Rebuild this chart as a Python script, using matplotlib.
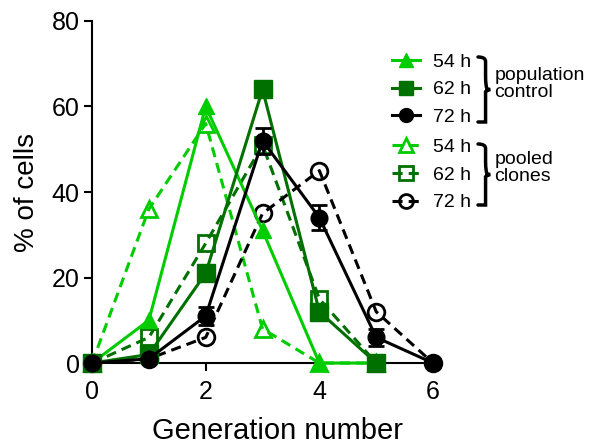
import numpy as np
import matplotlib
matplotlib.use("Agg")
import matplotlib.pyplot as plt
from matplotlib.lines import Line2D
from matplotlib.path import Path
from matplotlib.patches import PathPatch

plt.rcParams['font.family'] = ['Liberation Sans', 'DejaVu Sans']

# data
generation = [0, 1, 2, 3, 4, 5, 6]
pop_54h = [0, 10, 60, 31, 0, 0]
pop_62h = [0, 2, 21, 64, 12, 0]
pop_72h = [0, 1, 11, 52, 34, 6, 0]
pop_72h_err = [0, 0.5, 2, 3, 3, 2, 0]
pool_54h = [0, 36, 56, 8, 0, 0]
pool_62h = [0, 6, 28, 51, 15, 0]
pool_72h = [0, 1, 6, 35, 45, 12, 0]
hours = ['54 h', '62 h', '72 h']

light = '#00cc00'
dark = '#007000'
black = '#000000'

fig = plt.figure(figsize=(5.9, 4.46), dpi=100)
ax = fig.add_axes([0.156, 0.186, 0.578, 0.767])

lw = 2.2
dsh = (3.3, 2.0)
# pooled clones (dashed, open markers)
ax.plot(generation[:6], pool_54h, '--', color=light, lw=lw, marker='^', ms=12,
        mfc='none', mec=light, mew=2, dashes=dsh, zorder=3)
ax.plot(generation[:6], pool_62h, '--', color=dark, lw=lw, marker='s', ms=12,
        mfc='none', mec=dark, mew=2, dashes=dsh, zorder=3)
ax.plot(generation, pool_72h, '--', color=black, lw=lw, marker='o', ms=12,
        mfc='none', mec=black, mew=2, dashes=dsh, zorder=3)
# population control (solid, filled markers)
ax.plot(generation[:6], pop_54h, '-', color=light, lw=lw, marker='^', ms=12,
        mfc=light, mec=light, zorder=4)
ax.plot(generation[:6], pop_62h, '-', color=dark, lw=lw, marker='s', ms=13,
        mfc=dark, mec=dark, zorder=4)
ax.errorbar(generation, pop_72h, yerr=pop_72h_err, fmt='-o', color=black, lw=lw,
            ms=12, capsize=6, capthick=2, elinewidth=2, zorder=5)

ax.set_xlim(0, 6)
ax.set_ylim(0, 80)
ax.set_xticks([0, 2, 4, 6])
ax.set_yticks([0, 20, 40, 60, 80])
for s in ['top', 'right']:
    ax.spines[s].set_visible(False)
ax.spines['left'].set_linewidth(1.5)
ax.spines['bottom'].set_linewidth(1.5)
ax.tick_params(direction='out', length=6, width=1.5, labelsize=18)
ax.tick_params(axis='x', pad=6)
ax.tick_params(axis='y', pad=3)
ax.set_xlabel('Generation number', fontsize=21)
ax.xaxis.set_label_coords(0.545, -0.158)
ax.set_ylabel('% of cells', fontsize=20, labelpad=8)
for ln in ax.lines:
    ln.set_clip_on(False)
for c in ax.collections:
    c.set_clip_on(False)

# legends
h1 = [Line2D([], [], color=light, lw=lw, marker='^', ms=10),
      Line2D([], [], color=dark, lw=lw, marker='s', ms=10),
      Line2D([], [], color=black, lw=lw, marker='o', ms=10)]
h2 = [Line2D([], [], color=light, lw=lw, ls='--', dashes=dsh, marker='^', ms=10, mfc='none', mew=2),
      Line2D([], [], color=dark, lw=lw, ls='--', dashes=dsh, marker='s', ms=10, mfc='none', mew=2),
      Line2D([], [], color=black, lw=lw, ls='--', dashes=dsh, marker='o', ms=10, mfc='none', mew=2)]
leg_kw = dict(loc='upper left', frameon=False, fontsize=14, handlelength=1.45,
              handletextpad=0.65, labelspacing=0.52, borderpad=0, borderaxespad=0)
leg1 = fig.legend(h1, hours, bbox_to_anchor=(0.664, 0.881), **leg_kw)
leg2 = fig.legend(h2, hours, bbox_to_anchor=(0.664, 0.690), **leg_kw)


def brace(x, y0, y1, w=0.016):
    # right curly brace in figure fraction, from y0 (bottom) to y1 (top)
    ym = (y0 + y1) / 2
    xm = x + w
    verts = [(x - w * 0.3, y1), (x + w * 0.5, y1), (x + w * 0.5, y1 - 0.01), (x + w * 0.5, ym + 0.03),
             (x + w * 0.5, ym + 0.005), (xm - w * 0.3, ym), (xm, ym),
             (xm - w * 0.3, ym), (x + w * 0.5, ym - 0.005), (x + w * 0.5, ym - 0.03),
             (x + w * 0.5, y0 + 0.01), (x + w * 0.5, y0), (x - w * 0.3, y0)]
    codes = [Path.MOVETO, Path.CURVE3, Path.CURVE3, Path.LINETO,
             Path.CURVE3, Path.CURVE3, Path.LINETO,
             Path.CURVE3, Path.CURVE3, Path.LINETO,
             Path.CURVE3, Path.CURVE3, Path.LINETO]
    fig.add_artist(PathPatch(Path(verts, codes), transform=fig.transFigure,
                             fill=False, lw=2.5, color='black', capstyle='round'))


brace(0.815, 1 - 122 / 446, 1 - 57 / 446)
brace(0.815, 1 - 205 / 446, 1 - 144 / 446)
fig.text(0.838, 1 - 84 / 446, 'population\ncontrol', fontsize=14, ha='left', va='center', linespacing=0.95)
fig.text(0.838, 1 - 168 / 446, 'pooled\nclones', fontsize=14, ha='left', va='center', linespacing=0.95)

fig.savefig('out.png', dpi=100)
